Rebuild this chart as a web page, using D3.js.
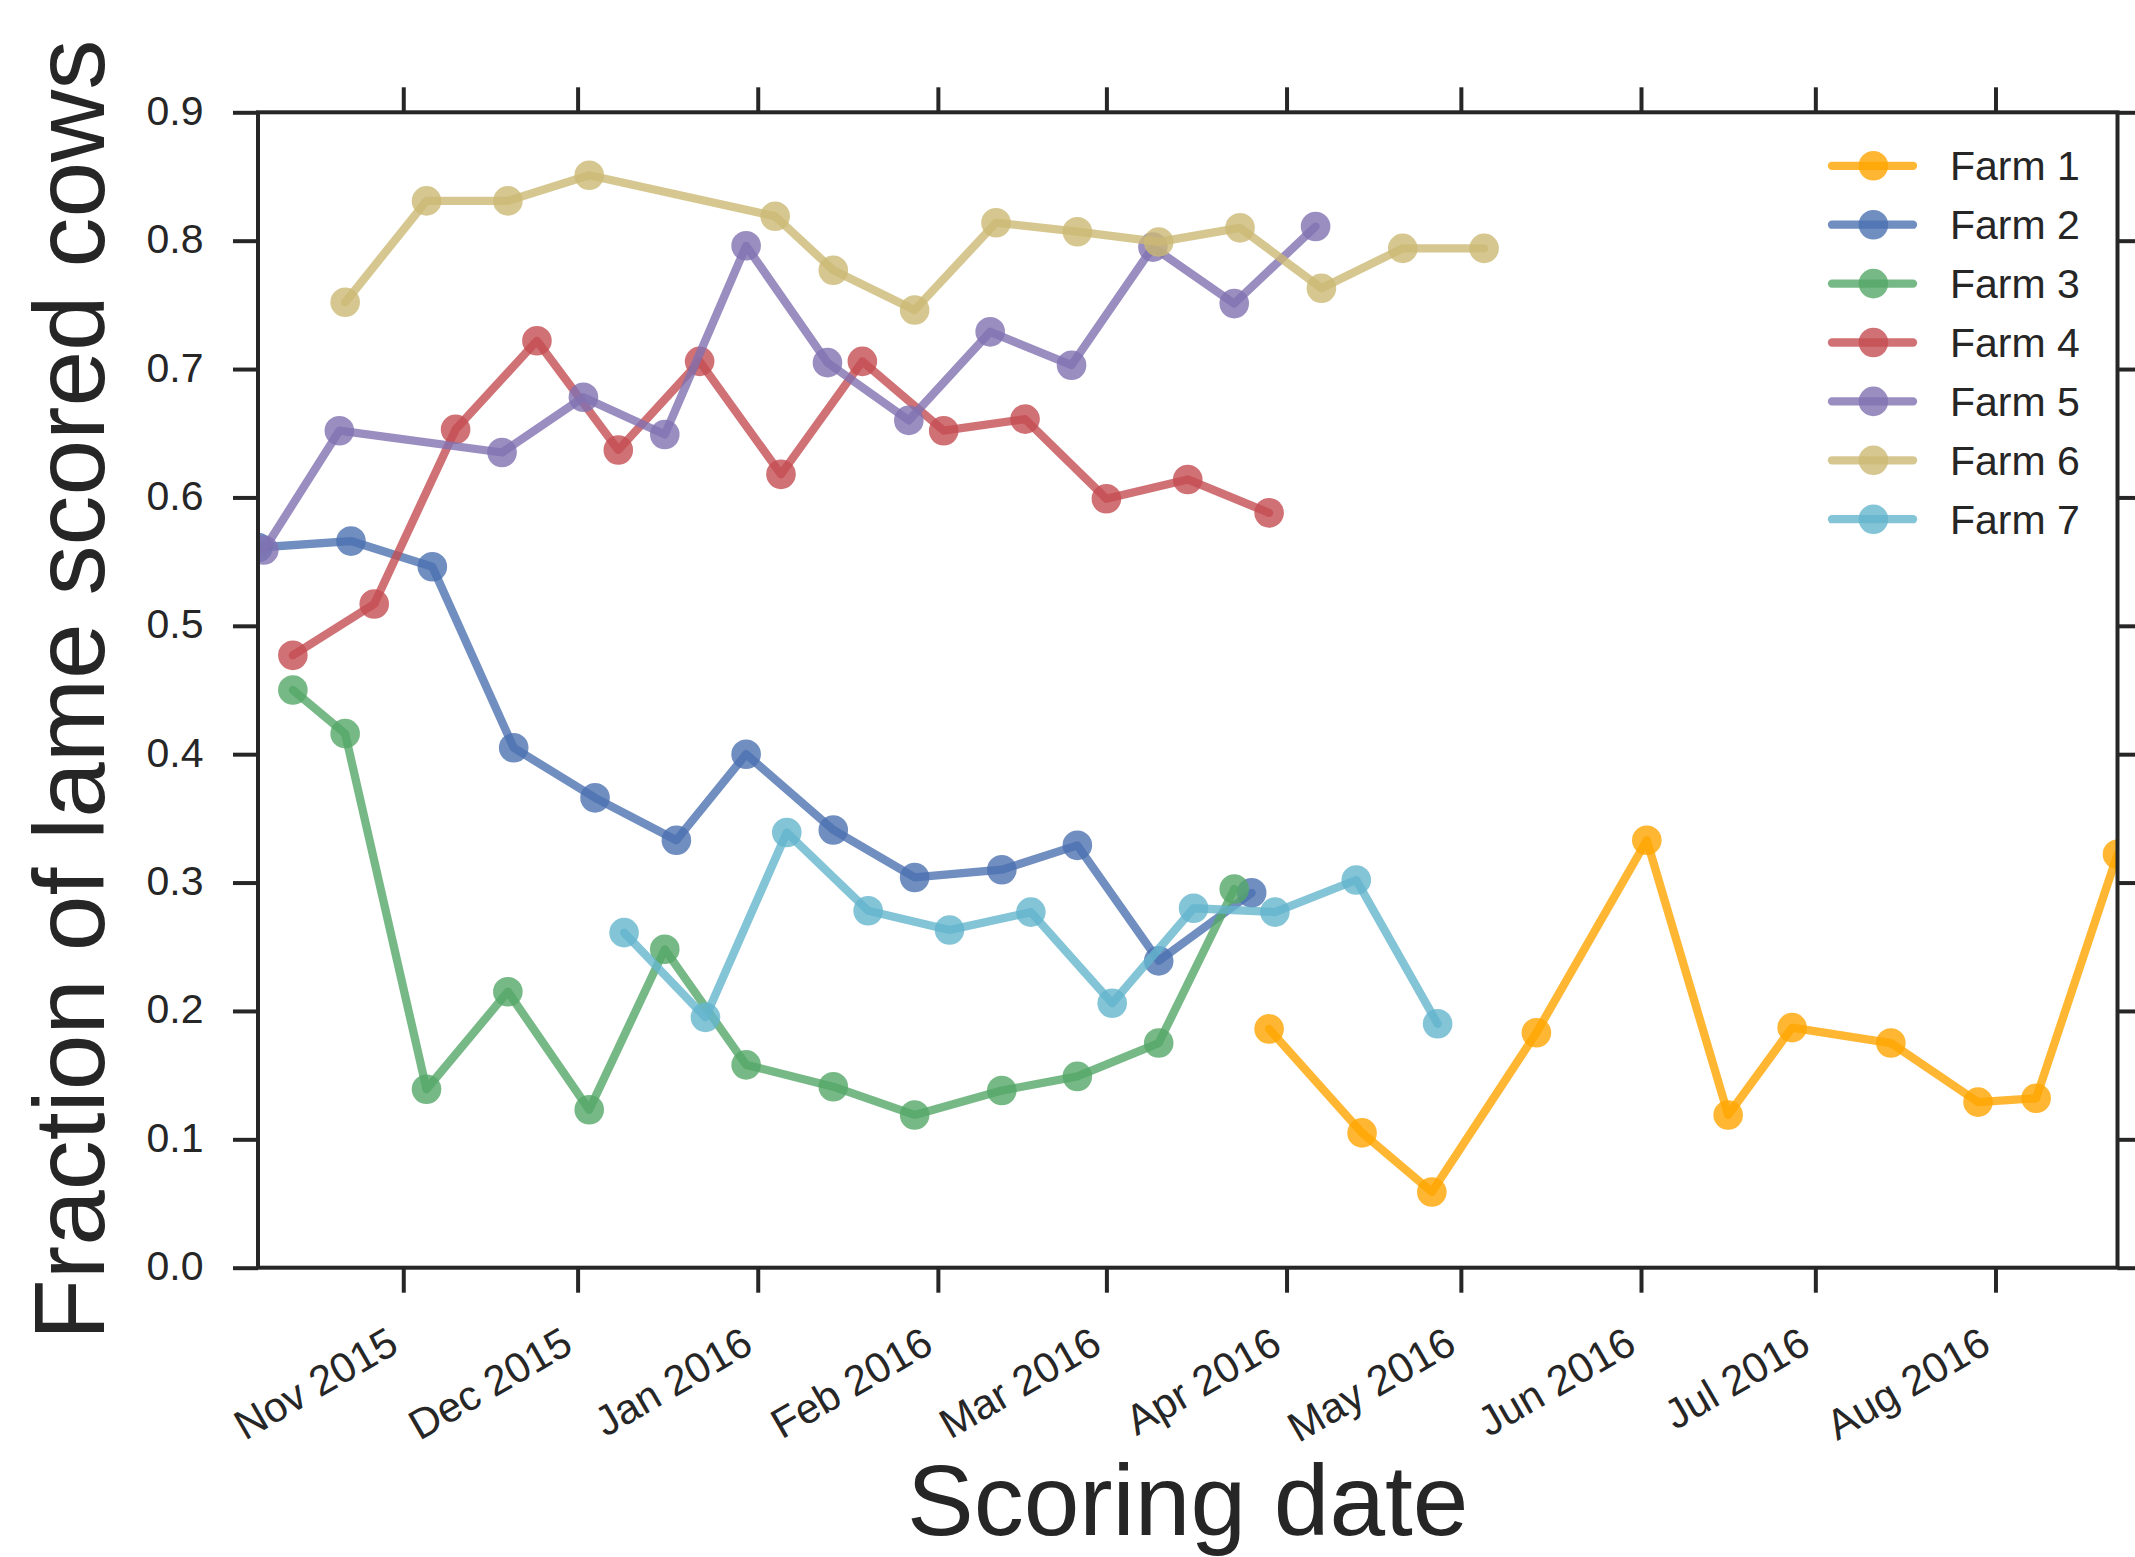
<!DOCTYPE html>
<html>
<head>
<meta charset="utf-8">
<script src="https://cdn.jsdelivr.net/npm/d3@7"></script>
<style>
  html, body { margin: 0; padding: 0; background: #ffffff; }
  svg { display: block; font-family: "Liberation Sans", Arial, Helvetica, sans-serif; }
</style>
</head>
<body>
<svg id="chart" width="2135" height="1557"></svg>
<script>
// ---------- data ----------
const farmNames = ["Farm 1", "Farm 2", "Farm 3", "Farm 4", "Farm 5", "Farm 6", "Farm 7"];
const farmColors = ["#FFA500", "#4C72B0", "#55A868", "#C44E52", "#8172B2", "#CCB974", "#64B5CD"];

const farm1Dates = ["2016-03-29","2016-04-14","2016-04-26","2016-05-14","2016-06-02","2016-06-16","2016-06-27","2016-07-14","2016-07-29","2016-08-08","2016-08-22"];
const farm1Values = [0.186, 0.105, 0.059, 0.183, 0.333, 0.119, 0.187, 0.175, 0.129, 0.132, 0.322];

const farm2Dates = ["2015-10-07","2015-10-23","2015-11-06","2015-11-20","2015-12-04","2015-12-18","2015-12-30","2016-01-14","2016-01-28","2016-02-12","2016-02-25","2016-03-10","2016-03-26"];
const farm2Values = [0.561, 0.566, 0.546, 0.405, 0.366, 0.333, 0.400, 0.341, 0.304, 0.310, 0.329, 0.239, 0.292];

const farm3Dates = ["2015-10-13","2015-10-22","2015-11-05","2015-11-19","2015-12-03","2015-12-16","2015-12-30","2016-01-14","2016-01-28","2016-02-12","2016-02-25","2016-03-10","2016-03-23"];
const farm3Values = [0.450, 0.416, 0.139, 0.215, 0.123, 0.248, 0.158, 0.141, 0.119, 0.138, 0.149, 0.175, 0.295];

const farm4Dates = ["2015-10-13","2015-10-27","2015-11-10","2015-11-24","2015-12-08","2015-12-22","2016-01-05","2016-01-19","2016-02-02","2016-02-16","2016-03-01","2016-03-15","2016-03-29"];
const farm4Values = [0.477, 0.517, 0.653, 0.722, 0.637, 0.706, 0.618, 0.706, 0.652, 0.661, 0.599, 0.614, 0.588];

const farm5Dates = ["2015-10-08","2015-10-21","2015-11-18","2015-12-02","2015-12-16","2015-12-30","2016-01-13","2016-01-27","2016-02-10","2016-02-24","2016-03-09","2016-03-23","2016-04-06"];
const farm5Values = [0.559, 0.652, 0.635, 0.678, 0.649, 0.796, 0.705, 0.660, 0.729, 0.703, 0.795, 0.751, 0.811];

const farm6Dates = ["2015-10-22","2015-11-05","2015-11-19","2015-12-03","2016-01-04","2016-01-14","2016-01-28","2016-02-11","2016-02-25","2016-03-10","2016-03-24","2016-04-07","2016-04-21","2016-05-05"];
const farm6Values = [0.752, 0.831, 0.831, 0.851, 0.819, 0.777, 0.746, 0.814, 0.807, 0.799, 0.810, 0.763, 0.794, 0.794];

const farm7Dates = ["2015-12-09","2015-12-23","2016-01-06","2016-01-20","2016-02-03","2016-02-17","2016-03-02","2016-03-16","2016-03-30","2016-04-13","2016-04-27"];
const farm7Values = [0.261, 0.195, 0.339, 0.278, 0.263, 0.277, 0.206, 0.280, 0.277, 0.302, 0.190];

const xDomain = ["2015-10-07", "2016-08-22"];
const yTicks = [0.0, 0.1, 0.2, 0.3, 0.4, 0.5, 0.6, 0.7, 0.8, 0.9];
const xTickLabels = ["Nov 2015","Dec 2015","Jan 2016","Feb 2016","Mar 2016","Apr 2016","May 2016","Jun 2016","Jul 2016","Aug 2016"];
const xLabel = "Scoring date";
const yLabel = "Fraction of lame scored cows";

// ---------- layout ----------
const parse = d3.utcParse("%Y-%m-%d");
const L = 258, R = 2117.5, T = 112.3, B = 1267.7;
const ink = "#262626";
const fontSize = 41;

const svg = d3.select("#chart");
svg.append("rect").attr("width", 2135).attr("height", 1557).attr("fill", "#fff");

const x = d3.scaleUtc().domain(xDomain.map(parse)).range([L, R]);
const y = d3.scaleLinear().domain([0, 0.9]).range([B, T]);

const series = [
  [farm1Dates, farm1Values], [farm2Dates, farm2Values], [farm3Dates, farm3Values],
  [farm4Dates, farm4Values], [farm5Dates, farm5Values], [farm6Dates, farm6Values],
  [farm7Dates, farm7Values]
].map(([ds, vs], i) => ({
  name: farmNames[i], color: farmColors[i],
  pts: ds.map((d, j) => ({ date: parse(d), value: vs[j] }))
}));

svg.append("defs").append("clipPath").attr("id", "plotclip")
  .append("rect").attr("x", L).attr("y", T).attr("width", R - L).attr("height", B - T);

const plot = svg.append("g").attr("clip-path", "url(#plotclip)");
const line = d3.line().x(d => x(d.date)).y(d => y(d.value));
const alpha = 0.8, lw = 8.3, mr = 14.8;

series.forEach(s => {
  const g = plot.append("g");
  g.append("path").datum(s.pts).attr("d", line)
    .attr("fill", "none").attr("stroke", s.color).attr("stroke-width", lw)
    .attr("stroke-opacity", alpha).attr("stroke-linejoin", "round").attr("stroke-linecap", "round");
  g.selectAll("circle").data(s.pts).join("circle")
    .attr("cx", d => x(d.date)).attr("cy", d => y(d.value)).attr("r", mr)
    .attr("fill", s.color).attr("fill-opacity", alpha);
});

// ---------- axes ----------
const monthTicks = d3.utcMonth.range(parse("2015-11-01"), parse("2016-08-02"));
const tickLen = 25, tickW = 4;

// bottom axis
const bottomAxis = d3.axisBottom(x).tickValues(monthTicks).tickSize(tickLen).tickFormat((d, i) => xTickLabels[i]);
const gb = svg.append("g").attr("transform", `translate(0,${B})`).call(bottomAxis);
gb.select(".domain").remove();
gb.selectAll(".tick line").attr("stroke", ink).attr("stroke-width", tickW);
gb.selectAll(".tick text")
  .attr("font-size", 42).attr("fill", ink)
  .attr("text-anchor", "end").attr("dy", null).attr("y", null)
  .attr("transform", `translate(-3,${1351 - B}) rotate(-30)`);

// top axis (ticks only)
const topAxis = d3.axisTop(x).tickValues(monthTicks).tickSize(tickLen).tickFormat("");
const gt = svg.append("g").attr("transform", `translate(0,${T})`).call(topAxis);
gt.select(".domain").remove();
gt.selectAll(".tick line").attr("stroke", ink).attr("stroke-width", tickW);

// left axis
const leftAxis = d3.axisLeft(y).tickValues(yTicks).tickSize(tickLen).tickFormat(d3.format(".1f"));
const gl = svg.append("g").attr("transform", `translate(${L},0)`).call(leftAxis);
gl.select(".domain").remove();
gl.selectAll(".tick line").attr("stroke", ink).attr("stroke-width", tickW);
gl.selectAll(".tick text")
  .attr("font-size", fontSize).attr("fill", ink)
  .attr("x", 203.5 - L).attr("dy", null).attr("y", 12);

// right axis (ticks only)
const rightAxis = d3.axisRight(y).tickValues(yTicks).tickSize(tickLen).tickFormat("");
const gr = svg.append("g").attr("transform", `translate(${R},0)`).call(rightAxis);
gr.select(".domain").remove();
gr.selectAll(".tick line").attr("stroke", ink).attr("stroke-width", tickW);

// spines
svg.append("rect").attr("x", L).attr("y", T).attr("width", R - L).attr("height", B - T)
  .attr("fill", "none").attr("stroke", ink).attr("stroke-width", 4);

// axis labels
svg.append("text").attr("x", (L + R) / 2).attr("y", 1535)
  .attr("text-anchor", "middle").attr("font-size", 100).attr("fill", ink).text(xLabel);
svg.append("text").attr("transform", `translate(104,${(T + B) / 2}) rotate(-90)`)
  .attr("text-anchor", "middle").attr("font-size", 100).attr("fill", ink).text(yLabel);

// ---------- legend ----------
const legend = svg.append("g");
series.forEach((s, i) => {
  const cy = 165.8 + i * 58.9;
  const g = legend.append("g");
  g.append("line").attr("x1", 1832).attr("x2", 1913).attr("y1", cy).attr("y2", cy)
    .attr("stroke", s.color).attr("stroke-width", lw).attr("stroke-opacity", alpha)
    .attr("stroke-linecap", "round");
  g.append("circle").attr("cx", 1873.4).attr("cy", cy).attr("r", mr)
    .attr("fill", s.color).attr("fill-opacity", alpha);
  g.append("text").attr("x", 1950).attr("y", cy + 14.5)
    .attr("font-size", fontSize).attr("fill", ink).text(s.name);
});
</script>
</body>
</html>
